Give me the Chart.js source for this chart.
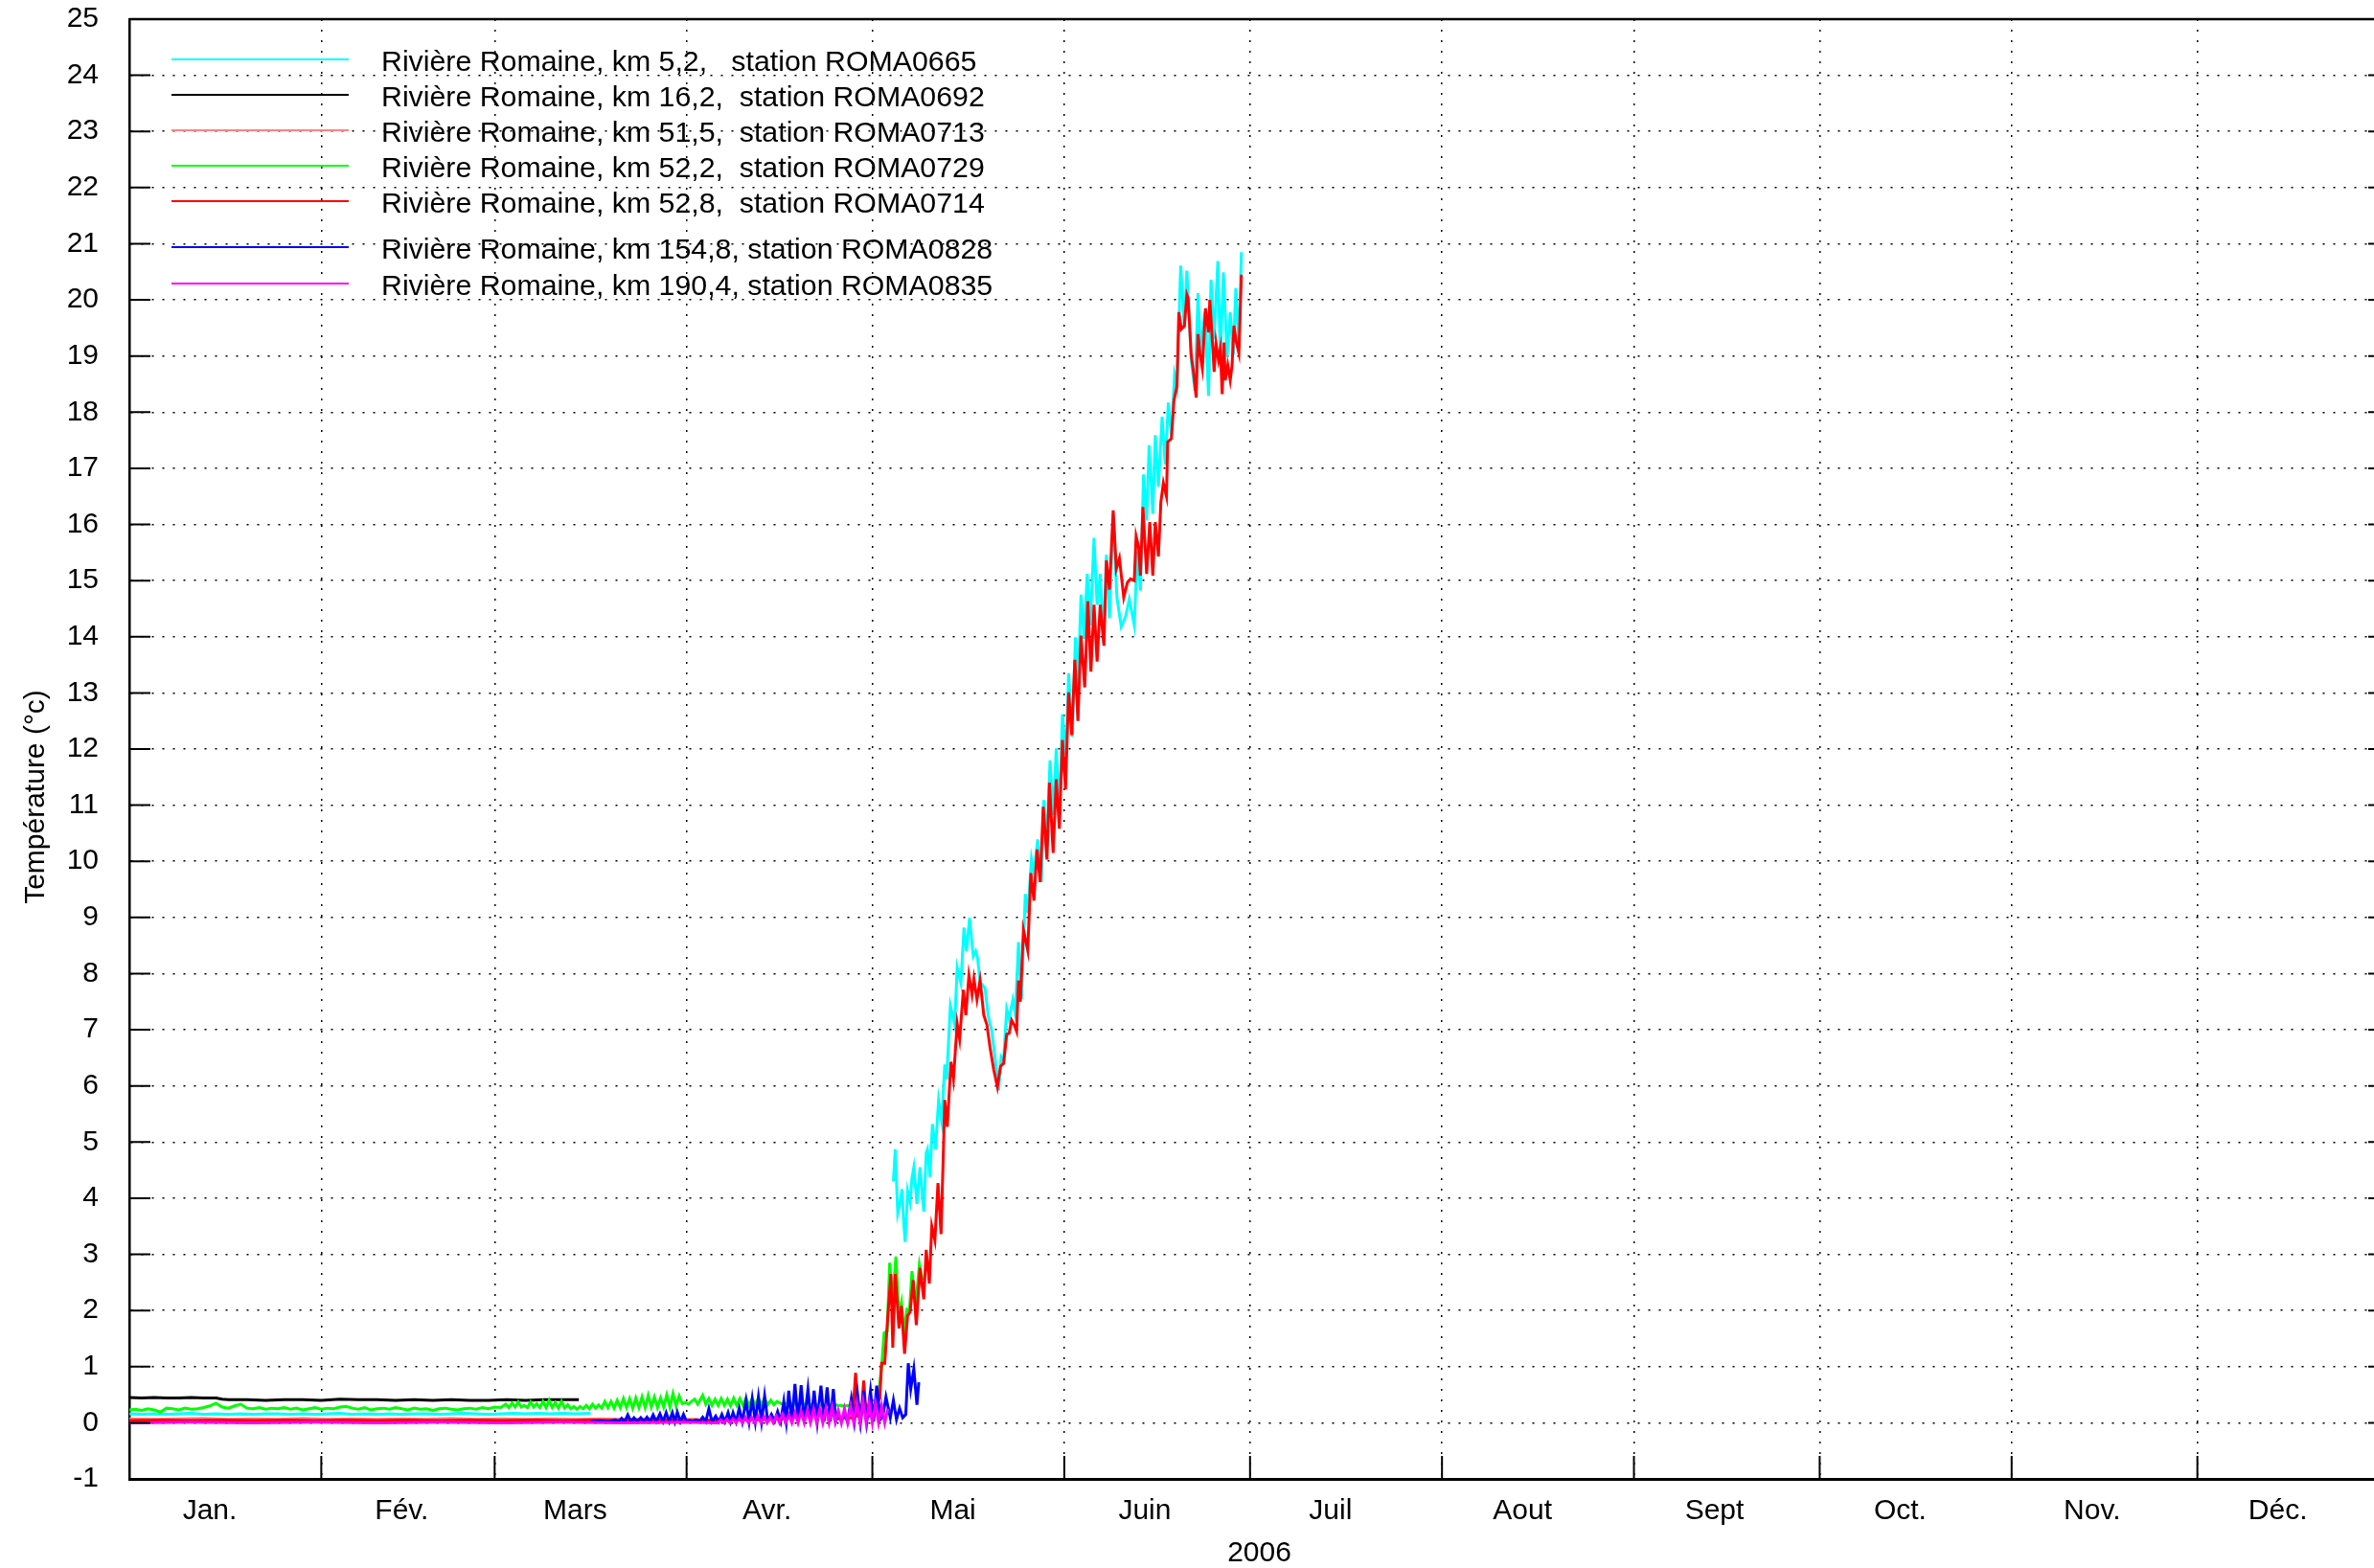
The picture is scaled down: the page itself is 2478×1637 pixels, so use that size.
<!DOCTYPE html>
<html><head><meta charset="utf-8">
<script src="https://cdn.jsdelivr.net/npm/chart.js@4/dist/chart.umd.min.js"></script>
<style>html,body{margin:0;padding:0;overflow:hidden;background:#fff;width:2478px;height:1637px}canvas{display:block}</style>
</head><body>
<canvas id="c" width="2520" height="1660" style="width:2520px;height:1660px"></canvas>
<script>
const FONT = "'Liberation Sans', Arial, Helvetica, sans-serif";

// x = day of year 2006 (0 = Jan 1), y = temperature (°C)
const monthStarts = [0,31,59,90,120,151,181,212,243,273,304,334];
const monthNames = ['Jan.','Fév.','Mars','Avr.','Mai','Juin','Juil','Aout','Sept','Oct.','Nov.','Déc.'];
const LABEL_OFFSET = 13;
const yMin = -1, yMax = 25;

const seriesLabels = [
  'Rivière Romaine, km 5,2,   station ROMA0665',
  'Rivière Romaine, km 16,2,  station ROMA0692',
  'Rivière Romaine, km 51,5,  station ROMA0713',
  'Rivière Romaine, km 52,2,  station ROMA0729',
  'Rivière Romaine, km 52,8,  station ROMA0714',
  'Rivière Romaine, km 154,8, station ROMA0828',
  'Rivière Romaine, km 190,4, station ROMA0835'
];
const seriesColors = ['#00ffff','#000000','rgb(255,130,130)','#00ff00','#ff0000','#0000ff','#ff00ff'];

const roma0665 = [[0,0.16],[2,0.15],[4,0.16],[6,0.15],[8,0.16],[10,0.17],[12,0.15],[14,0.16],[16,0.15],[18,0.16],[20,0.15],[22,0.16],[24,0.16],[26,0.15],[28,0.16],[30,0.15],[32,0.16],[34,0.17],[36,0.15],[38,0.16],[40,0.15],[42,0.16],[44,0.15],[46,0.16],[48,0.16],[50,0.15],[52,0.16],[54,0.17],[56,0.16],[58,0.15],[60,0.16],[62,0.17],[64,0.16],[66,0.17],[68,0.16],[70,0.17],[72,0.16],[74.5,0.17],
[99,null],
[123.4,4.3],[123.7,4.87],[124.1,3.73],[124.5,3.93],[124.8,4.16],[125.0,3.67],[125.3,3.22],[125.7,4.13],[126.1,3.93],[126.4,4.36],[126.7,4.55],[127.2,3.9],[127.7,4.55],[128.3,3.76],[128.7,4.81],[128.9,4.87],[129.3,4.38],[129.7,5.32],[130.2,4.87],[130.7,5.75],[131.2,5.38],[131.7,6.38],[132.0,6.12],[132.6,7.43],[133.3,7.09],[133.7,8.11],[134.3,7.83],[134.8,8.82],[135.2,8.4],[135.7,8.99],[136.3,8.31],[136.7,8.4],[137.0,8.28],[137.4,7.85],[138.2,7.74],[138.7,7.26],[139.3,6.97],[139.8,6.52],[140.4,5.92],[140.8,6.52],[141.2,6.46],[141.7,7.37],[142.1,7.2],[142.7,7.54],[143.1,7.28],[143.6,8.56],[144.1,7.54],[144.7,9.42],[145.1,9.08],[145.7,10.04],[146.1,9.79],[146.7,10.39],[147.3,9.63],[147.7,11.09],[148.2,10.36],[148.7,11.8],[149.2,10.82],[149.7,12.01],[150.2,10.79],[150.7,12.62],[151.3,11.89],[151.7,13.35],[152.3,12.22],[152.8,13.99],[153.2,13.04],[153.7,14.75],[154.2,13.96],[154.7,15.12],[155.2,14.2],[155.8,15.76],[156.3,14.57],[156.8,15.12],[157.3,13.9],[157.8,15.46],[158.3,14.33],[158.9,16.19],[159.5,14.7],[160.2,14.18],[160.9,14.36],[161.5,14.67],[162.3,14.21],[162.8,15.52],[163.3,14.82],[163.8,16.89],[164.3,16.07],[164.7,17.41],[165.3,16.19],[165.7,17.59],[166.2,16.67],[166.8,17.92],[167.3,17.07],[167.8,18.17],[168.3,17.56],[168.8,18.66],[169.2,18.44],[169.8,20.61],[170.4,19.48],[170.8,20.52],[171.5,18.93],[172.1,18.38],[172.6,20.12],[173.0,19.05],[173.7,19.78],[174.3,18.29],[174.7,20.36],[175.2,19.3],[175.8,20.69],[176.2,18.99],[176.7,20.49],[177.3,18.99],[177.8,19.78],[178.3,19.02],[178.7,20.21],[179.2,19.18],[179.6,20.85]];

const roma0692 = [[0,0.45],[2,0.44],[4,0.45],[6,0.44],[8,0.44],[10,0.45],[12,0.44],[14,0.44],[15,0.42],[16,0.41],[19,0.41],[22,0.4],[25,0.41],[28,0.41],[31,0.4],[34,0.42],[37,0.41],[40,0.41],[43,0.4],[46,0.41],[49,0.4],[52,0.41],[55,0.4],[58,0.4],[61,0.41],[64,0.4],[67,0.41],[70,0.41],[72.6,0.41]];

const roma0713 = [[0,0.07],[4,0.06],[8,0.07],[12,0.08],[16,0.06],[20,0.07],[24,0.06],[28,0.08],[32,0.06],[36,0.07],[40,0.06],[44,0.07],[48,0.06],[52,0.08],[56,0.06],[60,0.07],[64,0.06],[68,0.07],[72,0.06],[76,0.07],[80,0.06],[84,0.07],[88,0.06],[92,0.06]];

const roma0729 = [[0,0.23],[1,0.24],[2,0.22],[3,0.25],[4,0.23],[5,0.19],[6,0.26],[7,0.25],[8,0.23],[9,0.26],[10,0.24],[11,0.25],[12,0.27],[13,0.3],[14,0.35],[15,0.28],[16,0.26],[17,0.3],[18,0.33],[19,0.26],[20,0.25],[21,0.27],[22,0.24],[23,0.26],[24,0.25],[25,0.27],[26,0.24],[27,0.26],[28,0.23],[29,0.25],[30,0.27],[31,0.24],[32,0.26],[33,0.25],[34,0.28],[35,0.29],[36,0.26],[37,0.24],[38,0.27],[39,0.23],[40,0.25],[41,0.26],[42,0.24],[43,0.27],[44,0.25],[45,0.23],[46,0.26],[47,0.24],[48,0.25],[49,0.22],[50,0.25],[51,0.26],[52,0.24],[53,0.23],[54,0.25],[55,0.26],[56,0.24],[57,0.27],[58,0.25],[59,0.28],[60,0.27],
[60.8,0.33],[61.3,0.27],[61.8,0.35],[62.3,0.28],[62.8,0.37],[63.3,0.28],[63.8,0.31],[64.3,0.27],[64.8,0.37],[65.3,0.28],[65.8,0.34],[66.3,0.27],[66.8,0.38],[67.3,0.27],[67.8,0.4],[68.3,0.27],[68.8,0.36],[69.3,0.26],[69.8,0.38],[70.3,0.26],[70.8,0.32],[71.3,0.25],[71.8,0.29],[72.3,0.24],[72.8,0.29],[73.3,0.25],[73.8,0.31],[74.3,0.25],[74.8,0.33],[75.3,0.26],[75.8,0.32],[76.3,0.26],[76.8,0.38],[77.3,0.27],[77.8,0.38],[78.3,0.26],[78.8,0.4],[79.3,0.27],[79.8,0.43],[80.3,0.27],[80.8,0.43],[81.3,0.26],[81.8,0.44],[82.3,0.27],[82.8,0.46],[83.3,0.27],[83.8,0.49],[84.3,0.28],[84.8,0.46],[85.3,0.27],[85.8,0.44],[86.3,0.28],[86.8,0.5],[87.3,0.28],[87.8,0.52],[88.3,0.3],[88.8,0.48],[89.3,0.34],[89.8,0.36],[90.3,0.33],[90.8,0.38],[91.3,0.42],[91.8,0.33],[92.6,0.49],[93.1,0.33],[93.6,0.43],[94.1,0.31],[94.6,0.42],[95.1,0.31],[95.6,0.43],[96.1,0.31],[96.6,0.42],[97.1,0.3],[97.6,0.44],[98.1,0.31],[98.6,0.43],[99.1,0.31],[99.6,0.44],[100.1,0.31],[100.6,0.43],[101.1,0.32],[101.6,0.44],[102.1,0.32],[102.6,0.43],[103.1,0.32],[103.6,0.4],[104.1,0.32],[104.6,0.38],[105.5,0.33],[106.5,0.35],[107.5,0.33],[108.5,0.34],[109.5,0.32],[110.5,0.33],[111.5,0.31],[112.5,0.32],[113.5,0.33],[114.5,0.31],[115.5,0.3],[116.5,0.31],[117.5,0.3],[118.5,0.31],[119.5,0.3],[120.4,0.32],
[120.9,0.4],[121.5,1.0],[121.9,1.6],[122.4,1.63],[122.8,2.85],[123.3,2.14],[123.8,2.96],[124.3,1.91],[124.7,2.14],[125.1,1.63],[125.6,2.02],[126.0,2.0],[126.4,2.7],[127.0,2.08],[127.6,2.82],[128.1,2.54]];

const roma0714 = [[0,0.04],[5,0.05],[10,0.04],[15,0.05],[20,0.04],[25,0.05],[30,0.04],[35,0.05],[40,0.04],[45,0.05],[50,0.04],[55,0.05],[60,0.04],[65,0.05],[70,0.04],[75,0.05],[80,0.04],[85,0.05],[90,0.04],[95,0.05],[100,0.05],[104,0.06],[106,0.08],[107.5,0.1],[108.5,0.17],[109,0.11],[109.5,0.19],[110,0.12],[110.5,0.2],[111,0.13],[111.5,0.21],[112,0.14],[112.5,0.2],[113,0.15],[113.5,0.19],[114,0.1],[114.5,0.07],[115,0.08],[116,0.1],[116.8,0.08],[117.3,0.89],[117.6,0.12],[118.2,0.1],[118.6,0.75],[119,0.15],[119.6,0.12],[120.2,0.2],[120.8,0.35],[121.2,0.43],[121.5,1.06],[122.0,1.06],[122.5,1.9],[123.0,2.65],[123.3,1.34],[123.7,2.65],[124.3,1.68],[124.7,2.08],[125.2,1.23],[125.7,1.91],[126.1,1.97],[126.6,2.54],[127.1,1.74],[127.7,2.76],[128.3,2.2],[128.7,3.08],[129.2,2.48],[129.6,3.5],[130.1,3.25],[130.6,4.27],[131.1,3.36],[131.7,5.75],[132.1,5.27],[132.7,6.43],[133.1,6.12],[133.7,7.11],[134.1,6.83],[134.7,7.71],[135.1,7.26],[135.6,7.97],[136.1,7.63],[136.4,7.91],[136.9,7.54],[137.4,7.88],[138.0,7.26],[138.5,7.09],[139.0,6.69],[139.6,6.29],[140.2,5.98],[140.7,6.35],[141.2,6.4],[141.7,6.92],[142.1,6.94],[142.5,7.17],[142.9,7.09],[143.3,6.97],[143.6,7.88],[143.9,7.5],[144.4,8.78],[145.1,8.41],[145.6,9.79],[146.1,9.3],[146.6,10.21],[147.1,9.63],[147.6,10.97],[148.2,10.03],[148.6,11.4],[149.2,10.15],[149.7,11.46],[150.2,10.58],[150.7,12.16],[151.2,11.28],[151.7,13.01],[152.2,12.25],[152.7,13.59],[153.2,12.5],[153.7,14.02],[154.3,13.1],[154.8,14.63],[155.3,13.38],[155.8,14.57],[156.3,13.56],[156.8,14.57],[157.4,13.84],[157.8,15.36],[158.3,14.84],[158.9,16.25],[159.4,15.21],[159.9,15.4],[160.6,14.7],[161.2,14.97],[161.7,15.03],[162.3,15.0],[162.6,15.79],[163.0,15.6],[163.3,15.09],[163.7,16.31],[164.3,15.12],[164.8,16.04],[165.3,15.09],[165.7,16.04],[166.2,15.43],[166.6,16.4],[167.0,16.74],[167.5,16.5],[167.7,17.47],[168.3,17.53],[168.5,17.86],[168.7,18.2],[169.2,18.47],[169.5,19.78],[169.9,19.48],[170.4,19.54],[170.8,20.09],[171.0,20.03],[171.5,19.02],[171.9,18.69],[172.3,18.26],[172.6,19.39],[172.9,19.05],[173.3,18.78],[173.8,19.85],[174.3,19.42],[174.5,20.0],[174.8,19.48],[175.2,18.72],[175.5,19.24],[175.9,18.93],[176.2,19.12],[176.5,18.32],[176.8,19.24],[177.0,18.57],[177.4,18.84],[177.8,18.57],[178.1,18.84],[178.4,19.54],[178.8,19.24],[179.2,19.05],[179.6,20.45]];

const roma0828 = [[74.5,0.02],[76,0.03],[77.5,0.02],[78.5,0.05],[79,0.02],[79.5,0.08],[80,0.02],[80.5,0.14],[81,0.02],[81.5,0.09],[82,0.02],[82.6,0.09],[83.1,0.02],[83.6,0.1],[84.1,0.02],[84.6,0.14],[85.1,0.02],[85.7,0.16],[86.2,0.02],[86.7,0.18],[87.2,0.02],[87.7,0.18],[88.1,0.02],[88.5,0.19],[89,0.02],[89.5,0.15],[90,0.02],[90.5,0.04],[91,0.02],[91.5,0.05],[92.1,0.02],[92.6,0.1],[93.1,0.02],[93.6,0.25],[94.1,0.02],[94.7,0.12],[95.2,0.02],[95.7,0.15],[96.2,0.02],[96.7,0.18],[97.1,0.02],[97.5,0.18],[98,0.02],[98.5,0.26],[99,0.02],[99.6,0.4],[100.1,0.02],[100.6,0.43],[101.1,0.02],[101.6,0.46],[102.1,0.02],[102.6,0.48],[103.1,0.03],[103.7,0.15],[104.2,0.03],[104.7,0.2],[105.2,0.02],[105.7,0.38],[106.1,0.02],[106.5,0.57],[107,0.02],[107.5,0.69],[108,0.02],[108.5,0.67],[109,0.02],[109.6,0.6],[110.1,0.02],[110.6,0.57],[111.1,0.02],[111.7,0.66],[112.2,0.02],[112.7,0.63],[113.2,0.02],[113.7,0.6],[114.1,0.03],[114.5,0.15],[115,0.03],[115.5,0.15],[116,0.02],[116.6,0.43],[117.1,0.02],[117.6,0.52],[118.1,0.02],[118.6,0.57],[119.1,0.02],[119.7,0.57],[120.2,0.02],[120.7,0.66],[121.3,0.06],[121.7,0.12],[122.2,0.46],[122.9,0.09],[123.4,0.4],[123.9,0.06],[124.4,0.26],[124.9,0.09],[125.4,0.15],[125.8,1.06],[126.2,0.6],[126.7,0.96],[127.2,0.32],[127.5,0.72]];

const roma0835 = [[0,0.0],[10,0.01],[20,0.0],[30,0.01],[40,0.0],[50,0.01],[60,0.0],[70,0.01],[80,0.0],[90,0.01],[95,0.0],[95.5,0.05],[96,0.0],[96.5,0.06],[97,0.0],[97.5,0.07],[98,0.0],[98.5,0.08],[99,0.0],[99.5,0.1],[100,0.0],[100.5,0.1],[101,0.0],[101.5,0.12],[102,0.0],[102.5,0.11],[103,0.0],[103.5,0.1],[104,0.0],[104.5,0.12],[105,0.0],[105.5,0.15],[106,0.0],[106.5,0.14],[107,0.0],[107.5,0.18],[108,0.0],[108.5,0.2],[109,0.0],[109.5,0.22],[110,0.0],[110.5,0.24],[111,0.0],[111.5,0.24],[112,0.0],[112.5,0.26],[113,0.0],[113.5,0.28],[114,0.01],[114.5,0.22],[115,0.0],[115.5,0.25],[116,0.0],[116.5,0.3],[117,0.0],[117.5,0.35],[118,0.0],[118.5,0.38],[119,0.0],[119.5,0.35],[120,0.0],[120.5,0.34],[121,0.0],[121.5,0.3],[122,0.0],[122.5,0.25]];

const allSeries = [roma0665, roma0692, roma0713, roma0729, roma0714, roma0828, roma0835];

const datasets = allSeries.map((s, i) => ({
  label: seriesLabels[i],
  data: s.map(p => ({x: p[0], y: p[1]})),
  borderColor: seriesColors[i],
  backgroundColor: seriesColors[i],
  borderWidth: 3,
  pointRadius: 0,
  tension: 0,
  fill: false,
  spanGaps: false,
  order: allSeries.length - 1 - i
}));

const legendRows = [62, 99, 136, 173, 210, 258, 296];

const deco = {
  id: 'deco',
  afterDraw(chart) {
    const {ctx, chartArea: a, scales: {x, y}} = chart;
    ctx.save();
    ctx.strokeStyle = '#000';
    ctx.lineWidth = 2.5;
    ctx.beginPath();
    ctx.moveTo(a.left, a.top); ctx.lineTo(a.right, a.top);
    ctx.moveTo(a.right, a.top); ctx.lineTo(a.right, a.bottom);
    ctx.stroke();
    ctx.lineWidth = 2;
    y.ticks.forEach(t => {
      const py = y.getPixelForValue(t.value);
      ctx.beginPath();
      ctx.moveTo(a.left, py); ctx.lineTo(a.left + 22, py);
      ctx.moveTo(a.right, py); ctx.lineTo(a.right - 22, py);
      ctx.stroke();
    });
    monthStarts.forEach(m => {
      const px = x.getPixelForValue(m);
      ctx.beginPath(); ctx.moveTo(px, a.bottom); ctx.lineTo(px, a.bottom - 24); ctx.stroke();
    });
    // y axis title
    ctx.fillStyle = '#000';
    ctx.font = '30px ' + FONT;
    ctx.save();
    ctx.translate(38, 832);
    ctx.rotate(-Math.PI / 2);
    ctx.textAlign = 'center';
    ctx.textBaseline = 'middle';
    ctx.fillText('Température (°c)', 0, 0);
    ctx.restore();
    // legend
    ctx.font = '30.3px ' + FONT;
    ctx.textAlign = 'left';
    ctx.textBaseline = 'alphabetic';
    chart.data.datasets.forEach((ds, i) => {
      const ly = legendRows[i];
      ctx.strokeStyle = ds.borderColor;
      ctx.lineWidth = 2;
      ctx.beginPath(); ctx.moveTo(179, ly); ctx.lineTo(364, ly); ctx.stroke();
      ctx.fillStyle = '#000';
      ctx.fillText(ds.label, 398, ly + 12);
    });
    ctx.restore();
  }
};

new Chart(document.getElementById('c'), {
  type: 'line',
  data: { datasets },
  options: {
    responsive: false,
    animation: false,
    devicePixelRatio: 1,
    layout: { padding: { left: 0, right: 26, top: 20, bottom: 0 } },
    plugins: { legend: { display: false }, tooltip: { enabled: false } },
    scales: {
      x: {
        type: 'linear', min: 0, max: 365, position: 'bottom',
        afterBuildTicks: s => {
          const t = [];
          monthStarts.forEach(m => { t.push({value: m}); t.push({value: m + LABEL_OFFSET}); });
          s.ticks = t;
        },
        afterFit: s => { s.height = 116; s.paddingLeft = 0; s.paddingRight = 0; },
        grid: {
          color: c => (c.tick && monthStarts.includes(c.tick.value)) ? '#000' : 'rgba(0,0,0,0)',
          lineWidth: 1.5, drawTicks: false
        },
        border: { display: true, color: '#000', width: 3, dash: [2, 9] },
        ticks: {
          autoSkip: false, maxRotation: 0, minRotation: 0, padding: 16, color: '#000',
          font: { family: FONT, size: 30 },
          callback: v => { const i = monthStarts.indexOf(v - LABEL_OFFSET); return i >= 0 ? monthNames[i] : ''; }
        },
        title: { display: true, text: '2006', color: '#000', font: { family: FONT, size: 30 }, padding: { top: 0, bottom: 20 } }
      },
      y: {
        type: 'linear', min: yMin, max: yMax,
        afterFit: s => { s.width = 135; s.paddingTop = 0; s.paddingBottom = 0; },
        ticks: { stepSize: 1, padding: 32, color: '#000', font: { family: FONT, size: 30 } },
        grid: { color: '#000', lineWidth: 1.5, drawTicks: false },
        border: { display: true, color: '#000', width: 2.5, dash: [2, 9] }
      }
    }
  },
  plugins: [deco]
});
</script>
</body></html>
